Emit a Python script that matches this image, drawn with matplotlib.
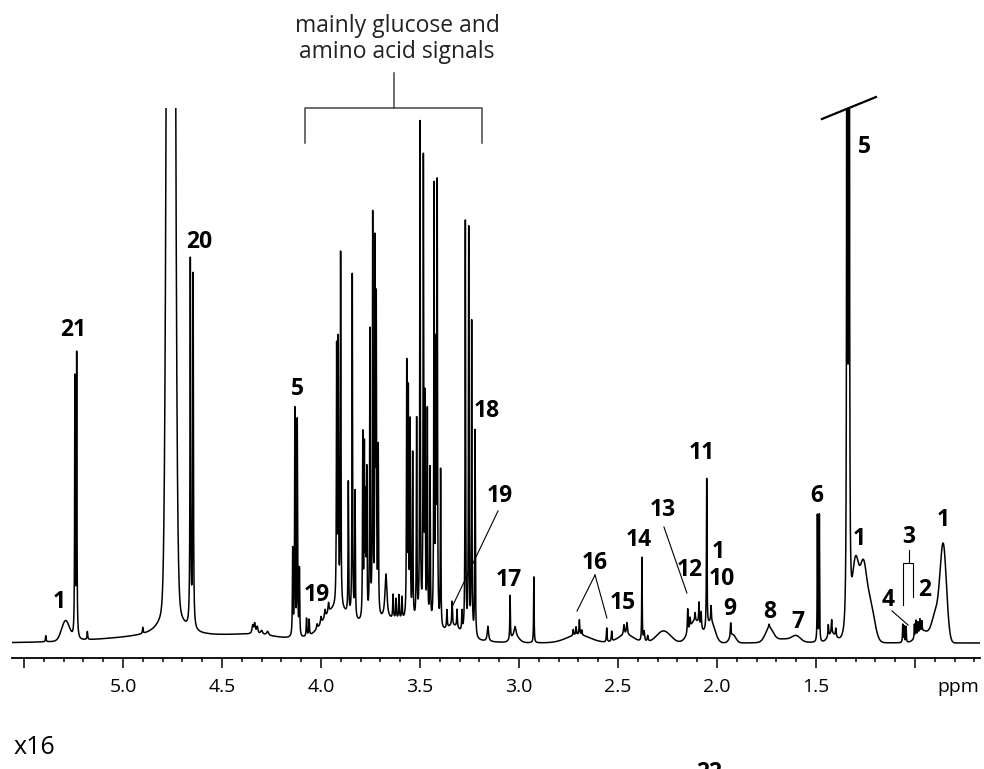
import matplotlib.pyplot as plt
import numpy as np

plt.rcParams['font.family'] = ['Open Sans', 'DejaVu Sans']

# sharp resonances: shift (ppm), height, half width (ppm)
line_ppm = [5.390, 5.243, 5.234, 5.180, 4.900, 4.758, 4.660, 4.646,
            4.345, 4.335, 4.322, 4.300, 4.270,
            4.143, 4.132, 4.120, 4.109, 4.073, 4.060,
            4.020, 4.000, 3.980, 3.962,
            3.921, 3.913, 3.901, 3.862, 3.842, 3.828,
            3.789, 3.781, 3.775, 3.769, 3.753, 3.739, 3.727, 3.721, 3.711,
            3.672, 3.636, 3.621, 3.606, 3.591,
            3.567, 3.559, 3.550, 3.537, 3.517, 3.500, 3.483, 3.475, 3.463, 3.449,
            3.429, 3.420, 3.413, 3.396,
            3.364, 3.338, 3.313, 3.288,
            3.271, 3.254, 3.239, 3.222, 3.157,
            3.045, 3.020, 2.925,
            2.726, 2.712, 2.695, 2.683, 2.557, 2.532, 2.470, 2.455,
            2.379, 2.368, 2.350,
            2.148, 2.136, 2.111, 2.091, 2.080, 2.052, 2.030, 1.931, 1.737,
            1.493, 1.483, 1.438, 1.421, 1.400, 1.343, 1.333,
            1.062, 1.055, 1.045, 1.003, 0.995, 0.985, 0.975, 0.965]
line_height = [6, 258, 282, 8, 6, 85, 366, 352,
               8, 10, 7, 4, 4,
               86, 226, 215, 66, 18, 16,
               5, 7, 8, 10,
               255, 258, 352, 132, 343, 126,
               183, 165, 110, 142, 285, 398, 358, 300, 165,
               45, 24, 20, 24, 22,
               252, 222, 193, 165, 200, 497, 458, 214, 210, 154,
               434, 260, 434, 157,
               18, 24, 18, 20,
               413, 406, 313, 207, 15,
               44, 10, 66,
               6, 8, 15, 5, 14, 10, 10, 12,
               84, 10, 6,
               24, 10, 8, 22, 16, 150, 16, 14, 4,
               127, 127, 12, 14, 8, 2500, 2500,
               18, 16, 16, 14, 16, 12, 13, 10]
line_hwhm = [0.002, 0.0015, 0.0015, 0.002, 0.002, 0.03, 0.0018, 0.0018,
             0.004, 0.004, 0.004, 0.006, 0.006,
             0.0016, 0.0016, 0.0016, 0.0016, 0.002, 0.002,
             0.003, 0.003, 0.003, 0.003,
             0.0016, 0.0016, 0.0016, 0.0016, 0.0016, 0.0016,
             0.0016, 0.0016, 0.0016, 0.0016, 0.0016, 0.0016, 0.0016, 0.0016, 0.0016,
             0.006, 0.002, 0.002, 0.002, 0.002,
             0.0016, 0.0016, 0.0016, 0.0016, 0.0016, 0.0016, 0.0016, 0.0016, 0.0016, 0.0016,
             0.0016, 0.0016, 0.0016, 0.0016,
             0.002, 0.002, 0.002, 0.002,
             0.0016, 0.0016, 0.0016, 0.0016, 0.004,
             0.0016, 0.006, 0.0014,
             0.002, 0.002, 0.002, 0.002, 0.002, 0.002, 0.003, 0.003,
             0.0014, 0.003, 0.003,
             0.002, 0.002, 0.002, 0.002, 0.002, 0.0016, 0.002, 0.002, 0.003,
             0.0012, 0.0012, 0.002, 0.002, 0.002, 0.0012, 0.0012,
             0.0015, 0.0015, 0.0015, 0.0015, 0.0015, 0.0015, 0.0015, 0.0015]

# broad signals and baseline humps: centre (ppm), height, sigma (ppm)
broad_ppm = [5.290, 4.758, 4.700, 4.330, 3.930, 3.650, 3.330, 3.020, 2.700,
             2.460, 2.270, 2.110, 2.030, 1.920, 1.736, 1.660, 1.600, 1.420,
             1.300, 1.262, 1.228, 0.960, 0.895, 0.857]
broad_height = [20, 2500, 7, 4, 25, 22, 10, 6, 8,
                8, 12, 22, 20, 8, 13, 4, 5, 8,
                78, 64, 40, 12, 28, 95]
broad_sigma = [0.02, 0.0135, 0.35, 0.12, 0.06, 0.20, 0.03, 0.02, 0.06,
               0.04, 0.035, 0.03, 0.02, 0.015, 0.02, 0.06, 0.02, 0.02,
               0.017, 0.016, 0.022, 0.03, 0.02, 0.016]

major_ticks = [5.5, 5.0, 4.5, 4.0, 3.5, 3.0, 2.5, 2.0, 1.5, 1.0]
tick_text = ['', '5.0', '4.5', '4.0', '3.5', '3.0', '2.5', '2.0', '1.5', '']

# peak labels: text, ppm, height
labels = [('1', 5.323, 41), ('21', 5.253, 313), ('20', 4.616, 401),
          ('5', 4.121, 254), ('19', 4.020, 48), ('18', 3.162, 232),
          ('19', 3.096, 147), ('17', 3.051, 63), ('16', 2.616, 80),
          ('15', 2.475, 40), ('14', 2.394, 103), ('13', 2.273, 133),
          ('12', 2.136, 73), ('11', 2.076, 190), ('1', 1.995, 91),
          ('10', 1.975, 64), ('9', 1.934, 34), ('8', 1.732, 31),
          ('7', 1.591, 21), ('6', 1.495, 147), ('5', 1.253, 496),
          ('1', 1.283, 104), ('4', 1.136, 43), ('3', 1.030, 106),
          ('2', 0.949, 53), ('1', 0.859, 123)]

ppm = np.linspace(5.5606, 0.6717, 40000)
spec = np.zeros_like(ppm)
for c, h, w in zip(line_ppm, line_height, line_hwhm):
    spec += h / (1 + ((ppm - c) / w) ** 2)
for c, h, s in zip(broad_ppm, broad_height, broad_sigma):
    spec += h * np.exp(-0.5 * ((ppm - c) / s) ** 2)

fig = plt.figure(figsize=(9.84, 7.69), dpi=100)
ax = fig.add_axes([12 / 984, 111 / 769, 968 / 984, 550 / 769])
ax.plot(ppm, spec, color='black', lw=1.1)
ax.set_xlim(5.5606, 0.6717)
ax.set_ylim(-15, 535)

for s in ['top', 'left', 'right']:
    ax.spines[s].set_visible(False)
ax.spines['bottom'].set_linewidth(1.3)
ax.set_yticks([])
ax.set_xticks(major_ticks)
ax.set_xticklabels(tick_text)
ax.set_xticks(np.arange(0.7, 5.56, 0.1), minor=True)
ax.tick_params(axis='x', which='major', length=7.2, width=1.1, pad=7,
               labelsize=14)
ax.tick_params(axis='x', which='minor', length=3, width=1.1)
ax.text(0.783, -44, 'ppm', fontsize=14, ha='center', va='center')

for t, x, y in labels:
    ax.text(x, y, t, fontsize=16.5, fontweight='bold', ha='center', va='center')

lk = dict(color='black', lw=0.8, clip_on=False)
ax.plot([2.616, 2.707], [68, 32], **lk)
ax.plot([2.616, 2.556], [68, 25], **lk)
ax.plot([2.268, 2.152], [116, 50], **lk)
ax.plot([3.106, 3.338], [132, 36], **lk)
ax.plot([1.116, 1.035], [32, 18], **lk)
ax.plot([1.030, 1.030], [93, 80], **lk)
ax.plot([1.061, 1.061, 1.010, 1.010], [38, 80, 80, 46], **lk)

bk = dict(color='#444444', lw=1.1, clip_on=False)
ax.plot([3.631, 3.631], [570, 535], **bk)
ax.plot([4.081, 4.081, 3.187, 3.187], [500, 535, 535, 500], **bk)
ax.text(3.616, 604, 'mainly glucose and\namino acid signals', fontsize=16.5,
        ha='center', va='center', color='#222222', linespacing=1.15)

ax.plot([1.470, 1.197], [524, 546], color='black', lw=1.6, clip_on=False)

fig.text(34 / 984, 1 - 748 / 769, 'x16', fontsize=18, ha='center', va='center')
fig.text(709 / 984, 1 - 761 / 769, '22', fontsize=16.5, fontweight='bold',
         ha='center', va='top')

fig.savefig('out.png', dpi=100)
